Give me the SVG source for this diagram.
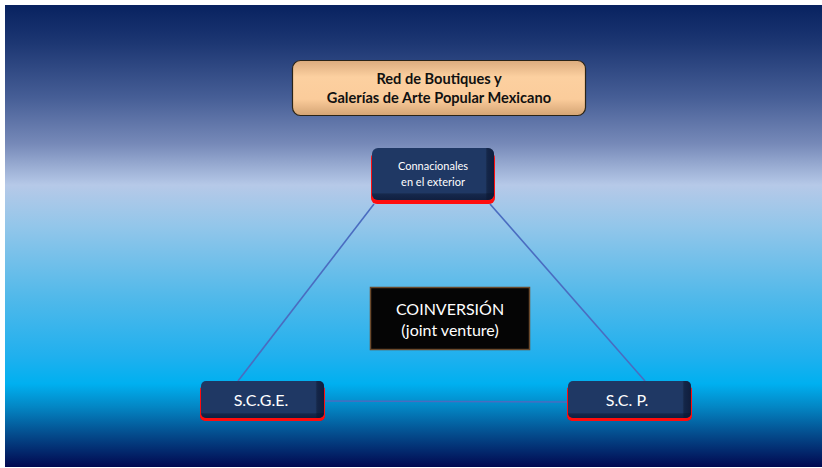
<svg xmlns="http://www.w3.org/2000/svg" width="822" height="468" viewBox="0 0 822 468">
<defs>
<linearGradient id="bg" x1="0" y1="5" x2="0" y2="467" gradientUnits="userSpaceOnUse">
<stop offset="0" stop-color="#082260"/>
<stop offset="0.08" stop-color="#1c3672"/>
<stop offset="0.2" stop-color="#465e96"/>
<stop offset="0.3" stop-color="#7689b8"/>
<stop offset="0.39" stop-color="#b6c9e8"/>
<stop offset="0.48" stop-color="#92c6ea"/>
<stop offset="0.63" stop-color="#52b9ea"/>
<stop offset="0.76" stop-color="#20b0ee"/>
<stop offset="0.82" stop-color="#00b0f0"/>
<stop offset="0.87" stop-color="#0386c4"/>
<stop offset="0.93" stop-color="#044b8c"/>
<stop offset="1" stop-color="#020850"/>
</linearGradient>
<linearGradient id="peach" x1="0" y1="0" x2="0" y2="1">
<stop offset="0" stop-color="#dcac7e"/>
<stop offset="0.3" stop-color="#fcd0a0"/>
<stop offset="0.7" stop-color="#fbcc9b"/>
<stop offset="1" stop-color="#d4a474"/>
</linearGradient>
<linearGradient id="bevR" x1="0" y1="0" x2="1" y2="0">
<stop offset="0" stop-color="#000" stop-opacity="0"/>
<stop offset="0.93" stop-color="#000" stop-opacity="0"/>
<stop offset="0.95" stop-color="#0a1530" stop-opacity="0.55"/>
<stop offset="1" stop-color="#0a1530" stop-opacity="0.75"/>
</linearGradient>
<linearGradient id="bevB" x1="0" y1="0" x2="0" y2="1">
<stop offset="0" stop-color="#000" stop-opacity="0"/>
<stop offset="0.86" stop-color="#000" stop-opacity="0"/>
<stop offset="0.9" stop-color="#0a1530" stop-opacity="0.5"/>
<stop offset="1" stop-color="#0a1530" stop-opacity="0.7"/>
</linearGradient>
<filter id="glow" x="-10%" y="-20%" width="120%" height="140%">
<feGaussianBlur stdDeviation="0.7"/>
</filter>
<style>
.red{fill:#ff0808;filter:url(#glow)}
.navy{fill:#1f3864}
.bR{fill:url(#bevR)}
.bB{fill:url(#bevB)}
.wt{fill:#ffffff;font-family:Lato,"Open Sans",sans-serif;text-anchor:middle}
.tt{fill:#111111;font-family:Lato,"Open Sans",sans-serif;font-weight:bold;font-size:14.6px;text-anchor:middle}
.conn{stroke:#4a6cc0;stroke-width:1.6;fill:none}
</style>
</defs>
<rect x="5" y="5" width="817" height="462" fill="url(#bg)"/>

<g id="connectors">
<line class="conn" x1="374" y1="204" x2="238" y2="381"/>
<line class="conn" x1="490" y1="204" x2="645" y2="381"/>
<line class="conn" x1="325" y1="401" x2="567" y2="402" stroke-width="2"/>
</g>

<g id="title">
<rect x="292.5" y="60.5" width="293" height="55" rx="8" fill="url(#peach)" stroke="#2a2418" stroke-width="1.2"/>
<text class="tt" x="439" y="84">Red de Boutiques y</text>
<text class="tt" x="439" y="102.5">Galerías de Arte Popular Mexicano</text>
</g>

<g id="connacionales">
<rect class="red" x="371" y="152" width="124" height="52" rx="6"/>
<rect class="navy" x="372" y="148" width="122" height="52" rx="6"/>
<rect class="bR" x="372" y="148" width="122" height="52" rx="6"/>
<rect class="bB" x="372" y="148" width="122" height="52" rx="6"/>
<text class="wt" x="433" y="170" font-size="11">Connacionales</text>
<text class="wt" x="433" y="186" font-size="11">en el exterior</text>
</g>

<g id="coinversion">
<rect x="370.5" y="287.5" width="159" height="62" fill="#050505" stroke="#6b4a2c" stroke-width="1.5"/>
<text class="wt" x="450" y="315" font-size="16">COINVERSIÓN</text>
<text class="wt" x="450" y="336" font-size="16">(joint venture)</text>
</g>

<g id="scge">
<rect class="red" x="200" y="385" width="125" height="36" rx="5"/>
<rect class="navy" x="201" y="381" width="123" height="37" rx="5"/>
<rect class="bR" x="201" y="381" width="123" height="37" rx="5"/>
<rect class="bB" x="201" y="381" width="123" height="37" rx="5"/>
<text class="wt" x="261" y="405.5" font-size="16">S.C.G.E.</text>
</g>

<g id="scp">
<rect class="red" x="567" y="385" width="125" height="36" rx="5"/>
<rect class="navy" x="568" y="381" width="123" height="37" rx="5"/>
<rect class="bR" x="568" y="381" width="123" height="37" rx="5"/>
<rect class="bB" x="568" y="381" width="123" height="37" rx="5"/>
<text class="wt" x="627" y="405.5" font-size="16">S.C. P.</text>
</g>
</svg>
